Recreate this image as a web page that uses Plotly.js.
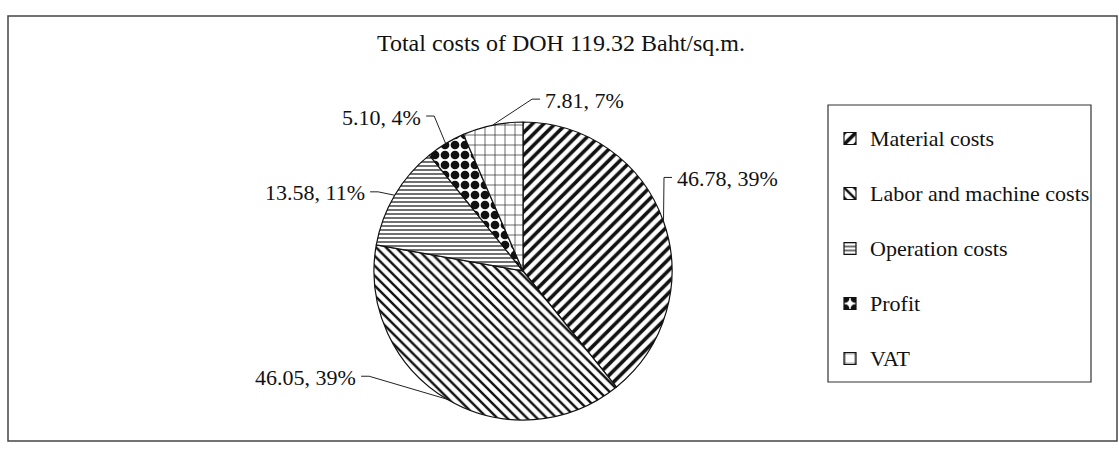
<!DOCTYPE html>
<html><head><meta charset="utf-8">
<script src="https://cdn.plot.ly/plotly-3.0.1.min.js"></script>
<style>html,body{margin:0;padding:0;background:#fff}#chart{width:1119px;height:452px}</style>
</head><body><div id="chart"></div>
<script>
// ---- data ----
const categories = ['Material costs', 'Labor and machine costs', 'Operation costs', 'Profit', 'VAT'];
const costs = [46.78, 46.05, 13.58, 5.10, 7.81];
const chartTitle = 'Total costs of DOH 119.32 Baht/sq.m.';

// ---- layout / style ----
const W = 1119, H = 452;
const cx = 523, cy = 271, R = 149;           // pie centre & radius (px)
const serif = 'Liberation Serif, Times New Roman, serif';
const patShape = ['/', '\\', '-', '.', '+'];
const patSize = [8, 7, 4, 10, 10];
const patSolid = [0.45, 0.35, 0.3, 0.6, 0.12];
// label placement: offset of text anchor from the slice's edge midpoint (px); side 1 = text to the right
const labelPlace = [
  {dx: 11.5, dy: -43, side: 1},
  {dx: -89, dy: -22, side: -1},
  {dx: -27.6, dy: -2.4, side: -1},
  {dx: -22.5, dy: -26.6, side: -1},
  {dx: 50.5, dy: -25, side: 1}
];

const px = x => x / W, py = y => 1 - y / H;
const total = costs.reduce((a, b) => a + b, 0);
const annotations = [], shapes = [];
let cum = 0;
costs.forEach((v, i) => {
  const mid = (cum + v / 2) / total * 2 * Math.PI; cum += v;
  const ex = cx + R * Math.sin(mid), ey = cy - R * Math.cos(mid);
  const p = labelPlace[i];
  const ax = ex + p.dx, ay = ey + p.dy;
  const txt = v.toFixed(2) + ', ' + Math.round(v / total * 100) + '%';
  annotations.push({xref: 'paper', yref: 'paper', x: px(ax), y: py(ay),
    xanchor: p.side > 0 ? 'left' : 'right', yanchor: 'middle', text: txt, showarrow: false,
    font: {family: serif, size: 22, color: '#111'}});
  const elbowX = ax - p.side * 11, lineY = ay - 1;
  shapes.push({type: 'path', xref: 'paper', yref: 'paper',
    path: `M${px(ax - p.side * 3)},${py(lineY)} L${px(elbowX)},${py(lineY)} L${px(ex)},${py(ey)}`,
    line: {color: '#222', width: 1}});
});
// outer frame and legend frame
shapes.push({type: 'rect', xref: 'paper', yref: 'paper', x0: px(8), x1: px(1117), y0: py(441), y1: py(16),
  line: {color: '#444', width: 1.5}});
shapes.push({type: 'rect', xref: 'paper', yref: 'paper', x0: px(828), x1: px(1091), y0: py(382), y1: py(105),
  line: {color: '#333', width: 1.2}});

const trace = {
  type: 'pie',
  labels: categories.map(c => '<span style="font-size:22px">' + c + '</span><br>\u00a0'),
  values: costs,
  sort: false,
  direction: 'clockwise',
  rotation: 0,
  textinfo: 'none',
  hoverinfo: 'label+value+percent',
  domain: {x: [px(cx - R), px(cx + R)], y: [py(cy + R), py(cy - R)]},
  marker: {
    colors: categories.map(() => '#ffffff'),
    line: {color: '#111', width: 1.2},
    pattern: {shape: patShape, size: patSize, solidity: patSolid, fgcolor: '#111', bgcolor: '#ffffff', fillmode: 'replace'}
  }
};

const layout = {
  width: W, height: H,
  margin: {l: 0, r: 0, t: 0, b: 0},
  paper_bgcolor: '#ffffff',
  title: {text: chartTitle, x: px(561), xanchor: 'center', y: 1 - 43 / H, yanchor: 'middle',
    font: {family: serif, size: 24, color: '#111'}},
  showlegend: true,
  legend: {x: px(830), xanchor: 'left', y: py(119), yanchor: 'top', valign: 'top',
    font: {family: serif, size: 20, color: '#111'}, bgcolor: 'rgba(0,0,0,0)', borderwidth: 0},
  annotations: annotations,
  shapes: shapes
};

Plotly.newPlot('chart', [trace], layout, {displayModeBar: false, staticPlot: true});
</script></body></html>
